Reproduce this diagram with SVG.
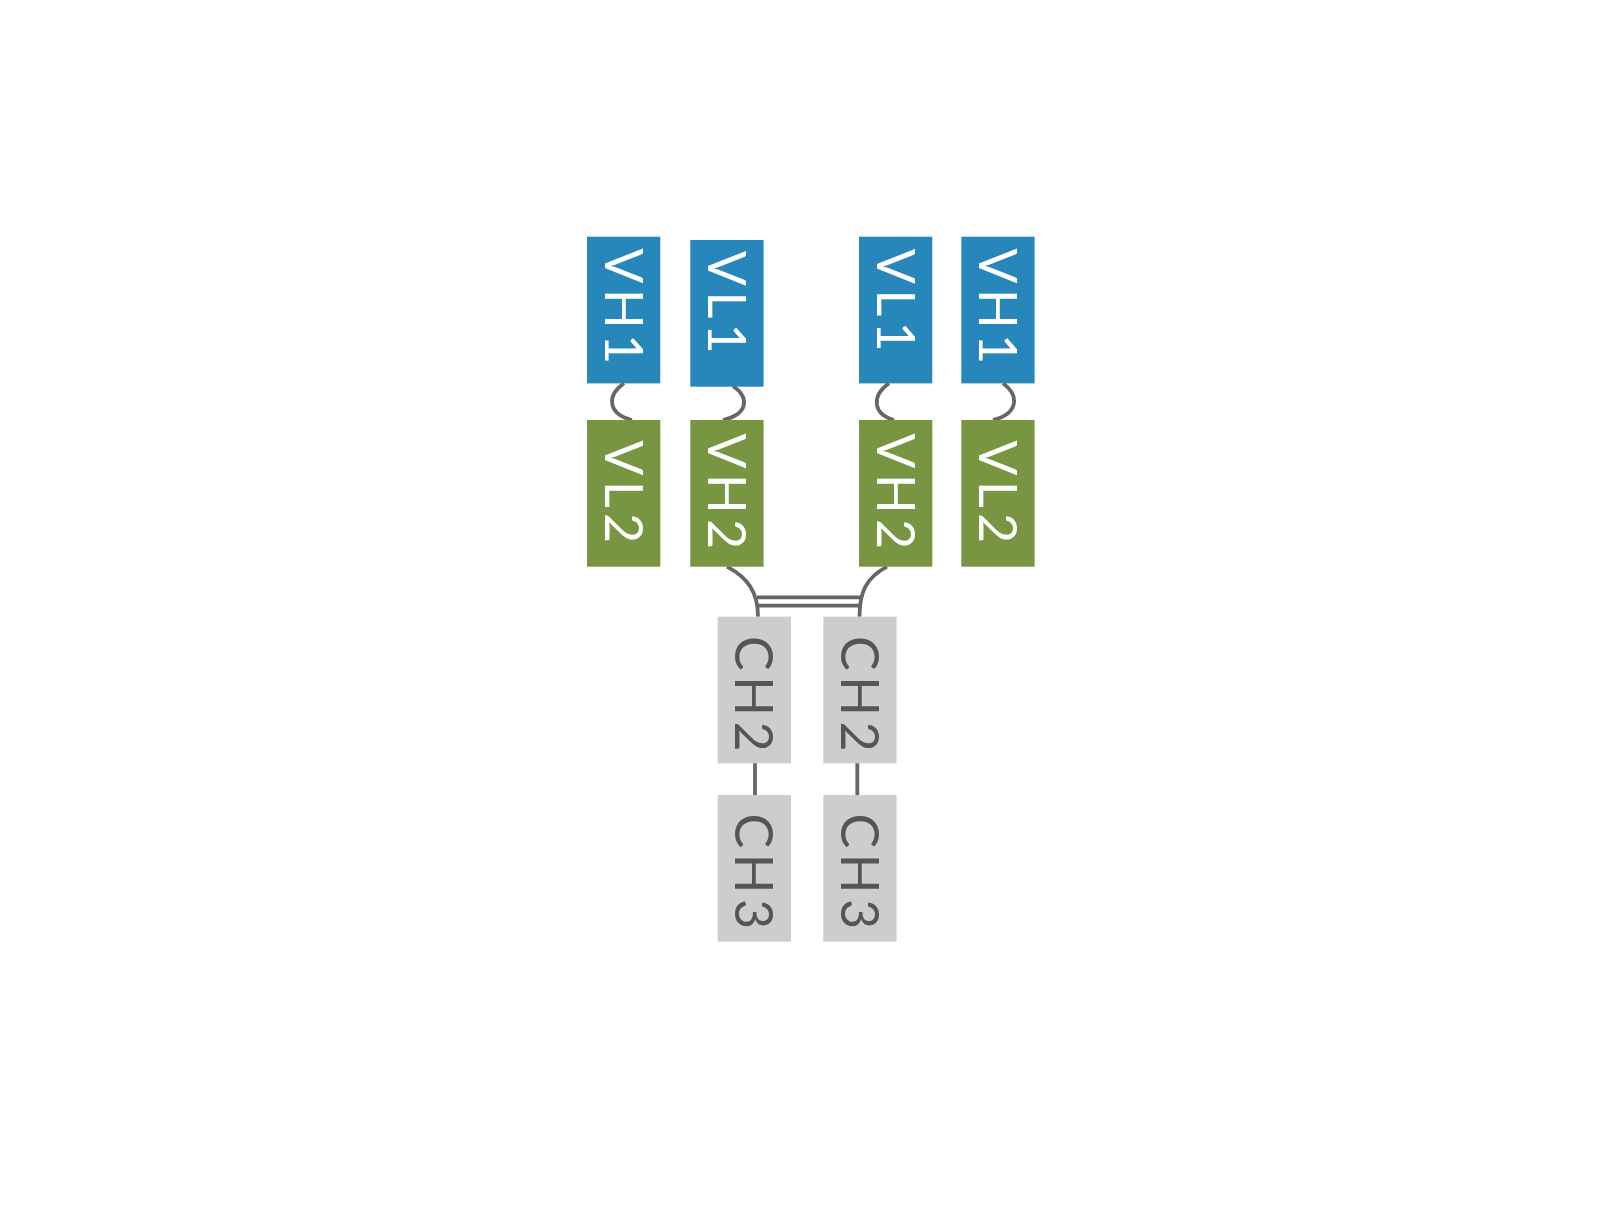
<svg xmlns="http://www.w3.org/2000/svg" width="1622" height="1205" viewBox="0 0 1622 1205">
<style>
.blue{fill:#2887ba}
.green{fill:#789641}
.grey{fill:#cdcdcd}
.lbl{font-family:Lato,"Liberation Sans",sans-serif;font-weight:400;font-size:52px;text-anchor:middle;letter-spacing:5.5px}
.w{fill:#ffffff}
.d{fill:#555555}
.con{fill:none;stroke:#666666;stroke-width:3.8}
</style>
<rect width="1622" height="1205" fill="#ffffff"/>
<g id="connectors">
<path class="con" d="M 624 383.3 C 606 396, 608 414, 632 420"/>
<path class="con" d="M 733 386 C 750 398, 748 414, 723 420"/>
<path class="con" d="M 889 383.3 C 871 396, 873 414, 894 420"/>
<path class="con" d="M 1003 383.3 C 1020 396, 1018 414, 993 420"/>
<path class="con" d="M 727 566.7 C 748 578, 758 592, 758 616.7"/>
<path class="con" d="M 887 566.7 C 866 578, 859.5 592, 859.5 616.7"/>
<line class="con" x1="757" y1="597.3" x2="860.5" y2="597.3"/>
<line class="con" x1="758" y1="605.7" x2="859.5" y2="605.7"/>
<line class="con" x1="755" y1="763" x2="755" y2="795"/>
<line class="con" x1="857.3" y1="763" x2="857.3" y2="795"/>
</g>
<g id="n-vh1-a">
<rect class="blue" x="587" y="236.7" width="73.3" height="146.7"/>
<text class="lbl w" transform="translate(623.6,309) rotate(90)" x="0" y="19">VH1</text>
</g>
<g id="n-vl1-a">
<rect class="blue" x="690.3" y="240" width="73.3" height="146.7"/>
<text class="lbl w" transform="translate(727,305) rotate(90)" x="0" y="19">VL1</text>
</g>
<g id="n-vl1-b">
<rect class="blue" x="859" y="236.7" width="73.3" height="146.7"/>
<text class="lbl w" transform="translate(895.6,303) rotate(90)" x="0" y="19">VL1</text>
</g>
<g id="n-vh1-b">
<rect class="blue" x="961.3" y="236.7" width="73.3" height="146.7"/>
<text class="lbl w" transform="translate(998,309) rotate(90)" x="0" y="19">VH1</text>
</g>
<g id="n-vl2-a">
<rect class="green" x="587" y="420" width="73.3" height="146.7"/>
<text class="lbl w" transform="translate(623.6,494.5) rotate(90)" x="0" y="19">VL2</text>
</g>
<g id="n-vh2-a">
<rect class="green" x="690.3" y="420" width="73.3" height="146.7"/>
<text class="lbl w" transform="translate(727,494) rotate(90)" x="0" y="19">VH2</text>
</g>
<g id="n-vh2-b">
<rect class="green" x="859" y="420" width="73.3" height="146.7"/>
<text class="lbl w" transform="translate(895.6,494) rotate(90)" x="0" y="19">VH2</text>
</g>
<g id="n-vl2-b">
<rect class="green" x="961.3" y="420" width="73.3" height="146.7"/>
<text class="lbl w" transform="translate(998,494.5) rotate(90)" x="0" y="19">VL2</text>
</g>
<g id="n-ch2-a">
<rect class="grey" x="717.7" y="616.7" width="73.3" height="146.7"/>
<text class="lbl d" transform="translate(754.3,696.5) rotate(90)" x="0" y="19">CH2</text>
</g>
<g id="n-ch2-b">
<rect class="grey" x="823.3" y="616.7" width="73.3" height="146.7"/>
<text class="lbl d" transform="translate(860,696.5) rotate(90)" x="0" y="19">CH2</text>
</g>
<g id="n-ch3-a">
<rect class="grey" x="717.7" y="795" width="73.3" height="146.7"/>
<text class="lbl d" transform="translate(754.3,874) rotate(90)" x="0" y="19">CH3</text>
</g>
<g id="n-ch3-b">
<rect class="grey" x="823.3" y="795" width="73.3" height="146.7"/>
<text class="lbl d" transform="translate(860,874) rotate(90)" x="0" y="19">CH3</text>
</g>
</svg>
